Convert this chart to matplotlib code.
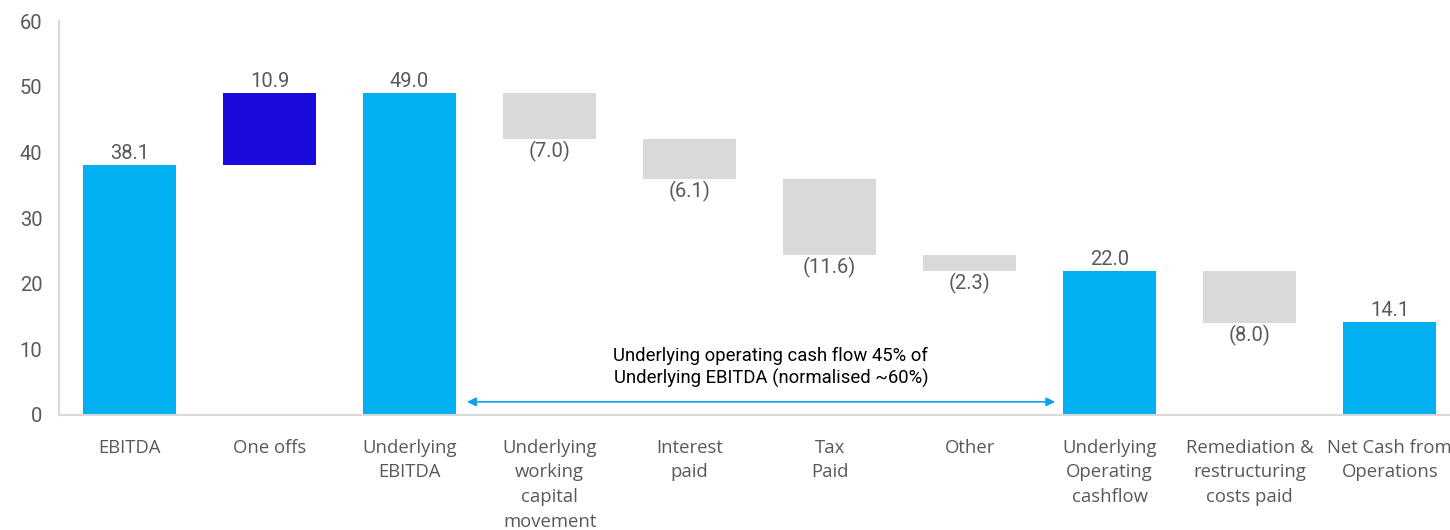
import matplotlib
matplotlib.use("Agg")
import matplotlib.pyplot as plt

categories = ["EBITDA", "One offs", "Underlying\nEBITDA", "Underlying\nworking\ncapital\nmovement",
              "Interest\npaid", "Tax\nPaid", "Other", "Underlying\nOperating\ncashflow",
              "Remediation &\nrestructuring\ncosts paid", "Net Cash from\nOperations"]
values = [38.1, 10.9, 49.0, -7.0, -6.1, -11.6, -2.3, 22.0, -8.0, 14.1]
kinds = ["total", "up", "total", "down", "down", "down", "down", "total", "down", "total"]
labels = ["38.1", "10.9", "49.0", "(7.0)", "(6.1)", "(11.6)", "(2.3)", "22.0", "(8.0)", "14.1"]
annotation = "Underlying operating cash flow 45% of\nUnderlying EBITDA (normalised ~60%)"

colors = {"total": "#00B0F0", "up": "#1A0BDC", "down": "#D9D9D9"}

fig = plt.figure(figsize=(14.5, 5.3), dpi=100)
ax = fig.add_axes([59/1450, 115/530, 1 - 59/1450, (415-21)/530])

running = 0.0
for i, (v, k, lab) in enumerate(zip(values, kinds, labels)):
    if k == "total":
        bottom, height = 0, v
        running = v
    elif k == "up":
        bottom, height = running, v
        running += v
    else:
        bottom, height = running + v, -v
        running += v
    ax.bar(i, height, bottom=bottom, width=0.665, color=colors[k], zorder=2)
    if k == "down":
        ax.text(i, bottom - 0.3, lab, ha="center", va="top", fontsize=14.5,
                color="#595959", family="Roboto")
    else:
        ax.text(i, bottom + height + 0.3, lab, ha="center", va="bottom", fontsize=14.5,
                color="#595959", family="Roboto")

ax.set_xlim(-0.504, 9.43)
ax.set_ylim(0, 60)
ax.set_yticks(range(0, 61, 10))
ax.set_xticks(range(len(categories)))
ax.set_xticklabels(categories, family="Open Sans", fontsize=13.3, color="#595959",
                   linespacing=1.48, va="top")
ax.tick_params(axis="x", length=0, pad=17)
ax.tick_params(axis="y", length=0, pad=12, labelsize=14.5, labelcolor="#595959")
for lab in ax.get_yticklabels():
    lab.set_family("Roboto")
for s in ["top", "right"]:
    ax.spines[s].set_visible(False)
ax.spines["left"].set_color("#D9D9D9")
ax.spines["bottom"].set_color("#D9D9D9")
ax.spines["left"].set_linewidth(1.5)
ax.spines["bottom"].set_linewidth(1.5)

ax.annotate("", xy=(2.41, 2.0), xytext=(6.61, 2.0),
            arrowprops=dict(arrowstyle="<|-|>", color="#0FA0F0", lw=1.2,
                            mutation_scale=13, shrinkA=0, shrinkB=0))
ax.text(4.58, 7.2, annotation, ha="center", va="center", fontsize=13.3,
        color="black", family="Roboto", linespacing=1.25)

fig.savefig("out.png", dpi=100)
